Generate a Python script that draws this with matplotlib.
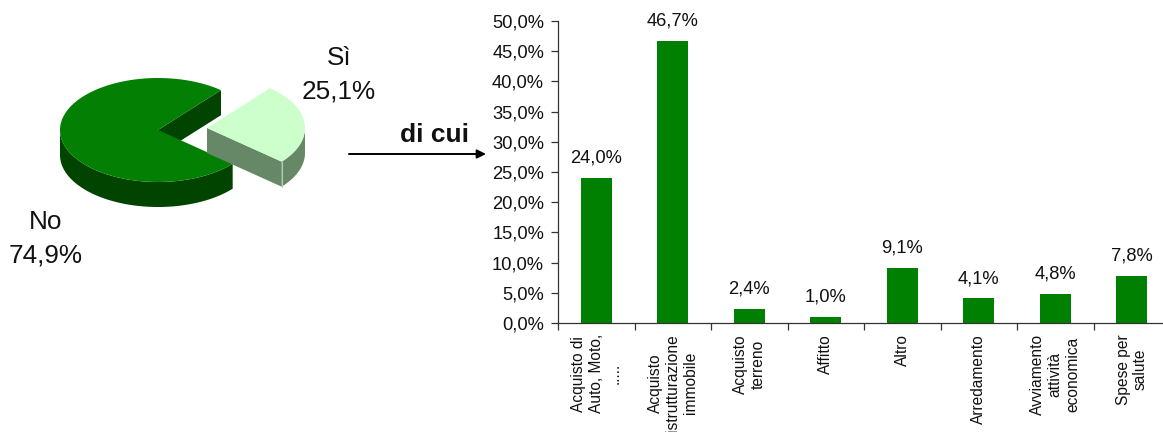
import numpy as np
import matplotlib
matplotlib.use("Agg")
import matplotlib.pyplot as plt
from matplotlib.patches import Polygon

plt.rcParams['font.family'] = ['Liberation Sans', 'DejaVu Sans']

pie_labels = ['No', 'Sì']
pie_values = [74.9, 25.1]
categories = ['Acquisto di\nAuto, Moto,\n.....', 'Acquisto\nistrutturazione\nimmobile', 'Acquisto\nterreno',
              'Affitto', 'Altro', 'Arredamento', 'Avviamento\nattività\neconomica', 'Spese per\nsalute']
bar_values = [24.0, 46.7, 2.4, 1.0, 9.1, 4.1, 4.8, 7.8]
y_ticks = [0, 5, 10, 15, 20, 25, 30, 35, 40, 45, 50]

W, H = 1163, 432
fig = plt.figure(figsize=(W / 100, H / 100), dpi=100)

# ---- overlay in pixel coordinates for the pseudo-3D pie
ov = fig.add_axes([0, 0, 1, 1])
ov.set_xlim(0, W)
ov.set_ylim(H, 0)
ov.axis('off')

RX, RY, DEPTH = 98, 52, 25
TOP = {'No': '#038003', 'Sì': '#CCFFCC'}
SIDE = {'No': '#004400', 'Sì': '#668866'}


def pt(cx, cy, a, dz=0):
    r = np.deg2rad(a)
    return np.array([cx + RX * np.cos(r), cy - RY * np.sin(r) + dz])


def arc(cx, cy, a0, a1, dz=0):
    n = max(int(abs(a1 - a0)) * 2, 2)
    return [pt(cx, cy, a, dz) for a in np.linspace(a0, a1, n)]


def outer_side(cx, cy, a0, a1, color):
    """Visible outer wall: the part of [a0, a1] lying in the front half."""
    lo, hi = max(a0, 180), min(a1, 360)
    if hi > lo:
        up = arc(cx, cy, lo, hi)
        down = arc(cx, cy, hi, lo, DEPTH)
        ov.add_patch(Polygon(up + down, closed=True, fc=color, ec='none', zorder=2))


start = 50.0
a_no_0 = start
a_no_1 = start + pie_values[0] * 3.6
a_si_0 = a_no_1 - 360
a_si_1 = start

# No slice
c = (158, 130)
p0 = pt(*c, a_no_0)
ov.add_patch(Polygon([c, p0, p0 + [0, DEPTH], (c[0], c[1] + DEPTH)], closed=True,
                     fc=SIDE['No'], ec='none', zorder=1))
outer_side(*c, a_no_0, a_no_1, SIDE['No'])
ov.add_patch(Polygon([c] + arc(*c, a_no_0, a_no_1), closed=True, fc=TOP['No'], ec='none', zorder=3))

# Sì slice
s = (207, 128)
q0 = pt(*s, a_si_0)
ov.add_patch(Polygon([s, q0, q0 + [0, DEPTH], (s[0], s[1] + DEPTH)], closed=True,
                     fc=SIDE['Sì'], ec='none', zorder=4))
outer_side(*s, a_si_0 + 360, 360, SIDE['Sì'])
ov.add_patch(Polygon([s] + arc(*s, a_si_0, a_si_1), closed=True, fc=TOP['Sì'], ec='none', zorder=6))
ov.plot([q0[0], q0[0]], [q0[1], q0[1] + DEPTH], color='#B5CCB5', lw=0.8, zorder=5)

ov.text(339, 58, pie_labels[1], fontsize=18.8, ha='center', va='center', color='#111111')
ov.text(339, 91, f"{pie_values[1]:.1f}%".replace('.', ','), fontsize=18.8, ha='center', va='center', color='#111111')
ov.text(46, 222, pie_labels[0], fontsize=18.8, ha='center', va='center', color='#111111')
ov.text(46, 255, f"{pie_values[0]:.1f}%".replace('.', ','), fontsize=18.8, ha='center', va='center', color='#111111')

ov.text(435, 135, 'di cui', fontsize=19, fontweight='bold', ha='center', va='center', color='#111111')
ov.annotate('', xy=(486, 154), xytext=(349, 154),
            arrowprops=dict(arrowstyle='-|>', color='black', lw=1.4, mutation_scale=13, shrinkA=0, shrinkB=0))

# ---- bar chart
left, right, top, bottom = 558, 1170, 21, 323
ax = fig.add_axes([left / W, 1 - bottom / H, (right - left) / W, (bottom - top) / H])
ax.patch.set_alpha(0)
x = np.arange(len(categories)) + 0.5
ax.bar(x, bar_values, width=0.405, color='#008000')
ax.set_xlim(0, len(categories))
ax.set_ylim(0, 50)
for sp in ('top', 'right'):
    ax.spines[sp].set_visible(False)
for sp in ('left', 'bottom'):
    ax.spines[sp].set_color('#333333')
    ax.spines[sp].set_linewidth(0.9)
ax.set_yticks(y_ticks)
ax.set_yticklabels([f"{v:.1f}%".replace('.', ',') for v in y_ticks], fontsize=13.2, color='#111111')
ax.tick_params(axis='y', length=5, width=0.9, color='#333333', pad=5)
ax.set_xticks(np.arange(len(categories) + 1))
ax.set_xticklabels([])
ax.tick_params(axis='x', which='major', length=5, width=0.9, color='#333333')
ax.set_xticks(x, minor=True)
ax.set_xticklabels(categories, minor=True, rotation=90, fontsize=11.2, ha='center', va='top',
                   multialignment='center', linespacing=1.2, color='#111111')
ax.tick_params(axis='x', which='minor', length=0, pad=8)
for xi, v in zip(x, bar_values):
    ax.annotate(f"{v:.1f}%".replace('.', ','), (xi, v), xytext=(0, 8), textcoords='offset points',
                ha='center', va='bottom', fontsize=13.2, color='#111111')

fig.savefig('out.png', dpi=100)
